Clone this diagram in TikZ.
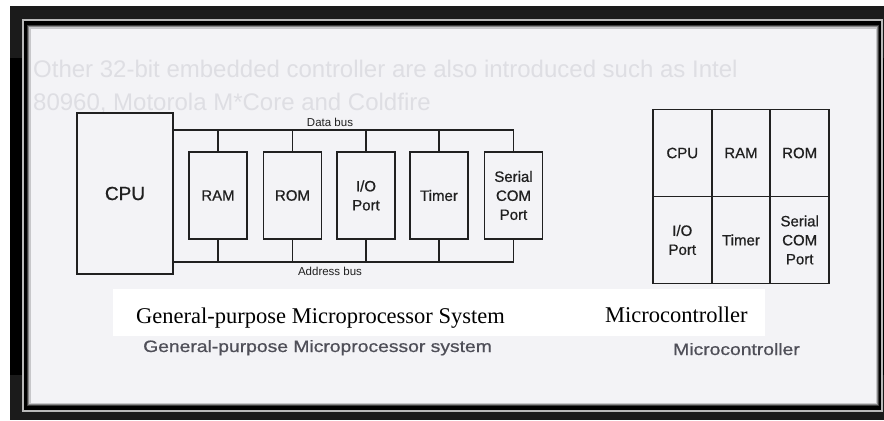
\documentclass[tikz,border=0pt]{standalone}
\usepackage{fontspec}
\setmainfont{Liberation Serif}
\newfontfamily\scanfont{Liberation Sans}
\newfontfamily\inkfont[FakeBold=0.7]{Liberation Sans}
\definecolor{panel}{HTML}{F3F3F6}
\definecolor{framedark}{HTML}{1B1B1B}
\definecolor{ghost}{HTML}{DEDEE3}
\definecolor{ink}{HTML}{202020}
\definecolor{scancap}{HTML}{4F4F58}
\begin{document}
\begin{tikzpicture}[x=1bp,y=-1bp,
  unitbox/.style={draw=ink, line width=1.9bp, inner sep=0pt, outer sep=0pt,
    minimum width=58bp, minimum height=87bp, align=center, text=ink,
    font=\inkfont\fontsize{15bp}{19bp}\selectfont},
  cell/.style={unitbox, minimum width=58.7bp, minimum height=87bp},
  bus/.style={draw=ink, line width=1.3bp},
  buslabel/.style={text=ink, inner sep=0pt, font=\scanfont\fontsize{11.5bp}{13bp}\selectfont},
  caption/.style={text=black, inner sep=0pt, font=\fontsize{22.5bp}{26bp}\selectfont},
  scancaption/.style={text=scancap, inner sep=0pt, font=\inkfont\fontsize{16.5bp}{19bp}\selectfont},
  ghosttext/.style={text=ghost, inner sep=0pt, font=\scanfont\fontsize{24bp}{28bp}\selectfont}]
\useasboundingbox (0,0) rectangle (884,420);

% window frame
\fill[white] (0,0) rectangle (884,420);
\fill[framedark] (10,6) rectangle (884,420);
\fill[black] (10,58) rectangle (23,375);
\fill[black] (881,58) rectangle (884,375);
\draw[gray!55, line width=1.2bp] (23,20) rectangle (882,411);
\fill[black] (23.6,20.6) rectangle (881.4,410.4);
\fill[black!75!panel] (27,25) rectangle (879,406);
\fill[black!45!panel] (28,26) rectangle (878,405);
\fill[black!18!panel] (29,27) rectangle (877,404);
\fill[panel] (30.5,28.5) rectangle (875.5,402.5);

% faint slide text behind the figure
\begin{scope}
  \clip (30.5,28.5) rectangle (875.5,402.5);
  \node[ghosttext, anchor=base west] (g1) at (33,77) {Other 32-bit embedded controller are also introduced such as Intel};
  \node[ghosttext, anchor=base west] (g2) at (33,110) {80960, Motorola M*Core and Coldfire};
\end{scope}

% white strip under the typed captions
\fill[white] (113,289) rectangle (765,336);

% general-purpose microprocessor system
\node[unitbox, minimum width=96bp, minimum height=161bp,
  font=\inkfont\fontsize{19bp}{22bp}\selectfont] (cpu) at (125,193.5) {CPU};
\node[unitbox] (ram) at (218,195.5) {RAM};
\node[unitbox] (rom) at (292.5,195.5) {ROM};
\node[unitbox] (io) at (366,195.5) {I/O\\Port};
\node[unitbox] (tmr) at (439,195.5) {Timer};
\node[unitbox] (ser) at (513.5,195.5) {Serial\\COM\\Port};

\coordinate (db) at (0,130);
\coordinate (ab) at (0,262);
\draw[bus] (cpu.east |- db) -- (ser.north |- db);
\draw[bus] (cpu.east |- ab) -- (ser.south |- ab);
\foreach \b in {ram,rom,io,tmr,ser}{
  \draw[bus] (\b.north) -- (\b.north |- db);
  \draw[bus] (\b.south) -- (\b.south |- ab);
}
\node[buslabel, anchor=base] (dbl) at (330,126.5) {Data bus};
\node[buslabel, anchor=base] (abl) at (330,275) {Address bus};

% microcontroller
\node[cell] (mcpu) at (682.3,153) {CPU};
\node[cell] (mram) at (741,153) {RAM};
\node[cell] (mrom) at (799.7,153) {ROM};
\node[cell] (mio) at (682.3,240) {I/O\\Port};
\node[cell] (mtmr) at (741,240) {Timer};
\node[cell] (mser) at (799.7,240) {Serial\\COM\\Port};

% captions
\node[caption, anchor=base west] (cap1) at (136,323) {General-purpose Microprocessor System};
\node[caption, anchor=base west] (cap2) at (605,322) {Microcontroller};
\node[scancaption, anchor=base west] (scap1) at (143,352) {\scalebox{1.17}[1]{General-purpose Microprocessor system}};
\node[scancaption, anchor=base west] (scap2) at (673,355) {\scalebox{1.17}[1]{Microcontroller}};
\end{tikzpicture}
\end{document}
